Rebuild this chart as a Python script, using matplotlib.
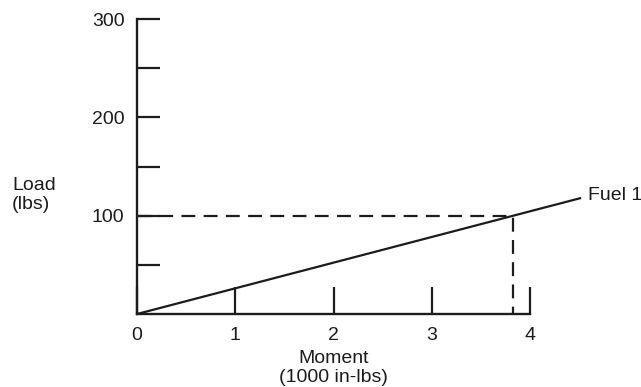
import matplotlib
matplotlib.use("Agg")
import matplotlib.pyplot as plt

plt.rcParams['font.family'] = ['Liberation Sans', 'DejaVu Sans']
plt.rcParams['lines.scale_dashes'] = False

# Load vs. moment data for the fuel line
fuel_moment = [0.0, 4.52]          # 1000 in-lbs
fuel_load = [0.0, 118.0]           # lbs
read_load = 100                    # lbs, reference reading
read_moment = 3.83                 # 1000 in-lbs

x_ticks = [0, 1, 2, 3, 4]
x_labels = ['0', '1', '2', '3', '4']
y_ticks = [50, 100, 150, 200, 250, 300]
y_labels = ['', '100', '', '200', '', '300']

ink = '#1c1c1c'
fs = 14
W, H = 641, 387
fig = plt.figure(figsize=(W / 100, H / 100), dpi=100)
ax = fig.add_axes([137 / W, 73 / H, 393 / W, 295 / H])
ax.set_xlim(0, 4)
ax.set_ylim(0, 300)

for side in ('top', 'right'):
    ax.spines[side].set_visible(False)
for side in ('left', 'bottom'):
    ax.spines[side].set_linewidth(1.7)
    ax.spines[side].set_color(ink)

ax.set_xticks(x_ticks)
ax.set_xticklabels(x_labels)
ax.set_yticks(y_ticks)
ax.set_yticklabels(y_labels)
ax.tick_params(axis='x', direction='in', length=19.5, width=1.6, pad=9,
               labelsize=fs, colors=ink)
ax.tick_params(axis='y', direction='in', length=16.5, width=1.6, pad=9,
               labelsize=fs, colors=ink)

# fuel line
ax.plot(fuel_moment, fuel_load, color=ink, lw=1.6, clip_on=False,
        solid_capstyle='butt')
ax.text(fuel_moment[-1] + 0.07, fuel_load[-1] + 2, 'Fuel 1', fontsize=fs,
        color=ink, ha='left', va='center', clip_on=False)

# dashed reading lines
ax.plot([0, read_moment, read_moment], [read_load, read_load, 0],
        color=ink, lw=1.6, dashes=(10, 6), clip_on=False)

ax.set_xlabel('Moment\n(1000 in-lbs)', fontsize=fs, color=ink, labelpad=5,
              linespacing=1.1)
fig.text(12 / W, 1 - 195 / H, 'Load\n(lbs)', fontsize=fs, color=ink,
         ha='left', va='center', linespacing=1.1)

fig.savefig('out.png', dpi=100, facecolor='white')
